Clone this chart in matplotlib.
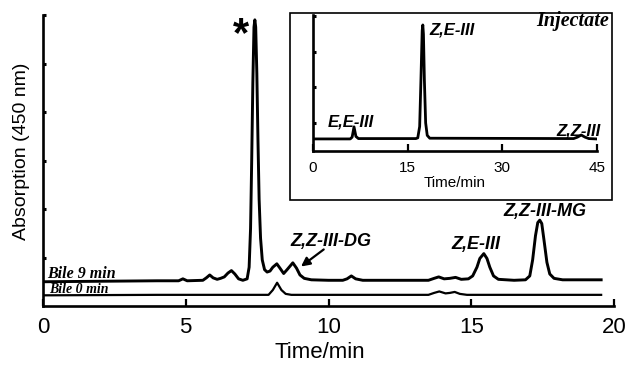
import matplotlib
matplotlib.use("Agg")
import matplotlib.pyplot as plt
from matplotlib.patches import Rectangle

# Bile 9 min trace (time in min, absorption in arbitrary units)
bile9_t = [0.0, 2.0, 4.0, 4.75, 4.9, 5.05, 5.6, 5.72, 5.84, 5.96, 6.1, 6.22, 6.35,
           6.48, 6.6, 6.72, 6.85, 7.0, 7.15, 7.22, 7.27, 7.31, 7.35, 7.39, 7.42,
           7.45, 7.49, 7.53, 7.57, 7.62, 7.68, 7.76, 7.85, 7.95, 8.05, 8.19, 8.3,
           8.43, 8.55, 8.75, 8.88, 9.0, 9.15, 9.4, 10.0, 10.5, 10.65, 10.8, 10.95,
           11.2, 13.5, 13.7, 13.86, 14.05, 14.25, 14.45, 14.65, 14.9, 15.05, 15.2,
           15.3, 15.44, 15.55, 15.65, 15.78, 15.95, 16.5, 16.9, 17.05, 17.15, 17.25,
           17.33, 17.4, 17.47, 17.55, 17.65, 17.75, 17.9, 18.2, 19.55]
bile9_y = [0.50, 0.51, 0.52, 0.52, 0.56, 0.52, 0.53, 0.58, 0.64, 0.58, 0.55, 0.57, 0.60,
           0.68, 0.73, 0.66, 0.56, 0.53, 0.56, 0.80, 1.6, 3.0, 4.6, 5.75, 5.9,
           5.75, 4.8, 3.4, 2.2, 1.4, 0.95, 0.75, 0.70, 0.72, 0.80, 0.87, 0.78,
           0.67, 0.75, 0.89, 0.78, 0.64, 0.57, 0.54, 0.53, 0.53, 0.56, 0.62, 0.56,
           0.53, 0.53, 0.57, 0.60, 0.56, 0.57, 0.59, 0.55, 0.56, 0.62, 0.80,
           0.98, 1.08, 0.98, 0.80, 0.62, 0.55, 0.53, 0.54, 0.62, 0.95, 1.45,
           1.72, 1.77, 1.70, 1.35, 0.90, 0.66, 0.57, 0.54, 0.54]

# Bile 0 min trace
bile0_t = [0.0, 4.0, 7.9, 8.05, 8.2, 8.35, 8.5, 8.7, 13.5, 13.7, 13.88, 14.1,
           14.25, 14.42, 14.6, 14.85, 19.55]
bile0_y = [0.22, 0.23, 0.23, 0.33, 0.48, 0.33, 0.25, 0.23, 0.23, 0.27, 0.30, 0.26,
           0.27, 0.29, 0.25, 0.23, 0.23]

# injectate trace (inset)
inj_t = [0.0, 5.9, 6.2, 6.5, 6.8, 7.2, 16.3, 16.6, 16.9, 17.1, 17.3, 17.4, 17.5,
         17.65, 17.85, 18.1, 18.5, 41.3, 41.9, 42.5, 43.1, 43.7, 44.9]
inj_y = [0.55, 0.55, 0.60, 0.89, 0.62, 0.56, 0.56, 0.58, 0.90, 2.2, 3.6, 3.76, 3.5,
         2.2, 1.0, 0.65, 0.57, 0.56, 0.60, 0.66, 0.60, 0.56, 0.55]

main_xticks = [0, 5, 10, 15, 20]
main_yticks = [1, 2, 3, 4, 5, 6]
inset_xticks = [0, 15, 30, 45]
inset_yticks = [1, 2, 3, 4]

plt.rcParams['font.family'] = ['Liberation Sans', 'DejaVu Sans']

fig = plt.figure(figsize=(6.3, 3.66), dpi=100)
W, H = 630, 366

# main axes
ax = fig.add_axes([43 / W, (H - 306) / H, (614 - 43) / W, (306 - 15) / H])
ax.plot(bile9_t, bile9_y, color='black', lw=2.1, solid_joinstyle='round')
ax.plot(bile0_t, bile0_y, color='black', lw=1.6, solid_joinstyle='round')
ax.set_xlim(0, 20)
ax.set_ylim(0, 6)
ax.set_xticks(main_xticks)
ax.set_yticks(main_yticks)
ax.set_yticklabels([])
ax.tick_params(axis='x', direction='in', length=5, width=1.6, labelsize=16, pad=8)
ax.tick_params(axis='y', direction='in', length=2.5, width=2.2)
for s in ['top', 'right']:
    ax.spines[s].set_visible(False)
for s in ['left', 'bottom']:
    ax.spines[s].set_linewidth(1.9)

fig.text(22 / W, 1 - 151 / H, 'Absorption (450 nm)', rotation=90,
         ha='center', va='center', fontsize=14)
fig.text(320 / W, 1 - 353 / H, 'Time/min', ha='center', va='center', fontsize=16)

# peak labels
lab = dict(fontweight='bold', fontstyle='italic', fontsize=13, ha='center', va='center')
ax.text(6.92, 6.0, '*', fontsize=30, fontweight='bold', ha='center', va='top')
ax.text(10.09, 1.34, 'Z,Z-III-DG', **lab)
ax.text(15.15, 1.26, 'Z,E-III', **lab)
ax.text(17.57, 1.94, 'Z,Z-III-MG', **lab)
ax.annotate('', xy=(8.96, 0.78), xytext=(9.91, 1.20),
            arrowprops=dict(arrowstyle='-|>', color='black', lw=1.6, mutation_scale=13))

serif = dict(family='Liberation Serif', fontweight='bold', fontstyle='italic')
ax.text(0.14, 0.58, 'Bile 9 min', fontsize=11.5, va='baseline', ha='left', **serif)
ax.text(0.21, 0.27, 'Bile 0 min', fontsize=10, va='baseline', ha='left', **serif)

# inset frame
fig.patches.append(Rectangle((290 / W, (H - 200) / H), (612 - 290) / W, (200 - 13) / H,
                             transform=fig.transFigure, fill=False, lw=1.2,
                             edgecolor='black'))

ins = fig.add_axes([313 / W, (H - 151) / H, (597 - 313) / W, (151 - 15) / H])
ins.plot(inj_t, inj_y, color='black', lw=2.0, solid_joinstyle='round')
ins.set_xlim(0, 45)
ins.set_ylim(0.21, 4.04)
ins.set_xticks(inset_xticks)
ins.set_yticks(inset_yticks)
ins.set_yticklabels([])
ins.tick_params(axis='x', direction='in', length=5, width=1.6, labelsize=11, pad=7)
ins.tick_params(axis='y', direction='in', length=2.5, width=2.2)
for s in ['top', 'right']:
    ins.spines[s].set_visible(False)
for s in ['left', 'bottom']:
    ins.spines[s].set_linewidth(1.9)
ins.set_xlabel('Time/min', fontsize=11, labelpad=1)
ins.patch.set_alpha(0)

lab_in = dict(fontweight='bold', fontstyle='italic', fontsize=12, ha='center', va='center')
ins.text(22.0, 3.62, 'Z,E-III', **lab_in)
ins.text(6.0, 1.03, 'E,E-III', **lab_in)
ins.text(42.0, 0.77, 'Z,Z-III', **lab_in)
ins.text(46.9, 3.87, 'Injectate', fontsize=14.5, ha='right', va='center',
         clip_on=False, **serif)

fig.savefig('out.png', dpi=100)
